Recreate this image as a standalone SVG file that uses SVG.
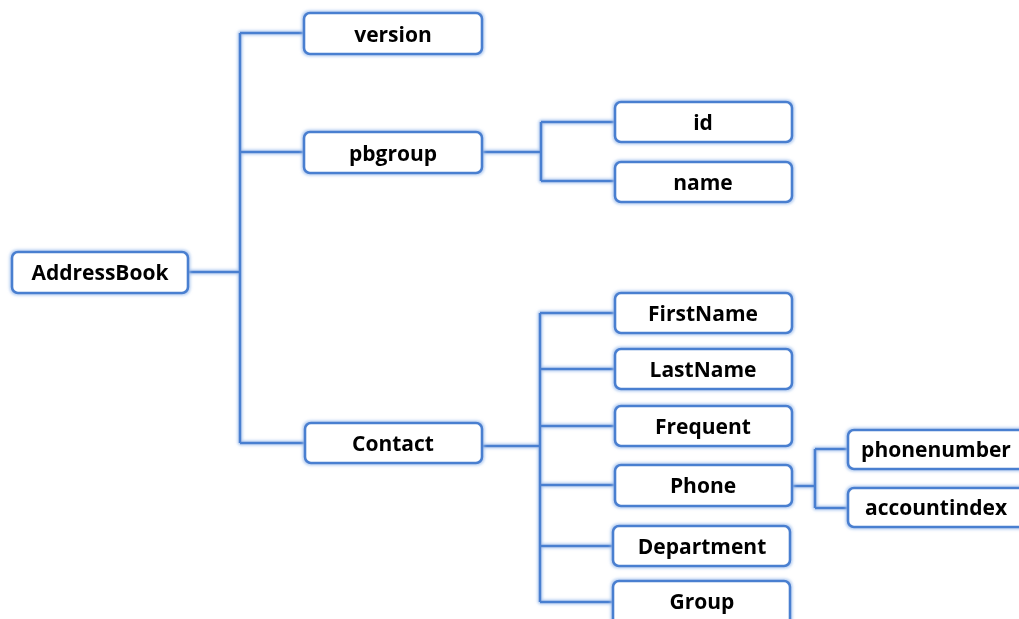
<svg xmlns="http://www.w3.org/2000/svg" width="1019" height="619" viewBox="0 0 1019 619">
<defs>
<filter id="glow" x="-5%" y="-5%" width="110%" height="110%">
<feMorphology in="SourceAlpha" operator="dilate" radius="1" result="d"/>
<feGaussianBlur in="d" stdDeviation="1.8" result="b"/>
<feFlood flood-color="#9bbcec" flood-opacity="0.85"/>
<feComposite in2="b" operator="in" result="g"/>
<feMerge><feMergeNode in="g"/><feMergeNode in="SourceGraphic"/></feMerge>
</filter>
<style>
.box{fill:#fff;stroke:#4a7fd0;stroke-width:2.6}
.lbl{font-family:"Open Sans","Liberation Sans",sans-serif;font-weight:bold;font-size:21px;fill:#000;text-anchor:middle}
.ln{fill:none;stroke:#4a7fd0;stroke-width:2.6}
</style>
</defs>
<rect width="1019" height="619" fill="#fff"/>
<g id="connectors" class="ln" filter="url(#glow)">
<path d="M188,272 H240 M240,33 V443 M240,33 H304 M240,152 H304 M240,443 H305"/>
<path d="M482,152 H541 M541,122 V181 M541,122 H615 M541,181 H615"/>
<path d="M482,446 H540 M540,313 V602 M540,313 H615 M540,369 H615 M540,426 H615 M540,485 H615 M540,546 H615 M540,602 H615"/>
<path d="M792,486 H815 M815,449 V508 M815,449 H848 M815,508 H848"/>
</g>
<g filter="url(#glow)">
<g id="AddressBook"><rect class="box" x="12" y="252" width="176" height="41" rx="6"/><text class="lbl" x="100" y="280">AddressBook</text></g>
<g id="version"><rect class="box" x="304" y="13" width="178" height="41" rx="6"/><text class="lbl" x="393" y="42">version</text></g>
<g id="pbgroup"><rect class="box" x="304" y="132" width="178" height="41" rx="6"/><text class="lbl" x="393" y="161">pbgroup</text></g>
<g id="Contact"><rect class="box" x="305" y="423" width="177" height="40" rx="6"/><text class="lbl" x="393" y="451">Contact</text></g>
<g id="id"><rect class="box" x="615" y="102" width="177" height="40" rx="6"/><text class="lbl" x="703" y="130">id</text></g>
<g id="name"><rect class="box" x="615" y="162" width="177" height="40" rx="6"/><text class="lbl" x="703" y="190">name</text></g>
<g id="FirstName"><rect class="box" x="615" y="293" width="177" height="40" rx="6"/><text class="lbl" x="703" y="321">FirstName</text></g>
<g id="LastName"><rect class="box" x="615" y="349" width="177" height="40" rx="6"/><text class="lbl" x="703" y="377">LastName</text></g>
<g id="Frequent"><rect class="box" x="615" y="406" width="177" height="40" rx="6"/><text class="lbl" x="703" y="434">Frequent</text></g>
<g id="Phone"><rect class="box" x="615" y="465" width="177" height="41" rx="6"/><text class="lbl" x="703" y="493">Phone</text></g>
<g id="Department"><rect class="box" x="613" y="526" width="177" height="40" rx="6"/><text class="lbl" x="702" y="554">Department</text></g>
<g id="Group"><rect class="box" x="613" y="581" width="177" height="44" rx="6"/><text class="lbl" x="702" y="609">Group</text></g>
<g id="phonenumber"><rect class="box" x="848" y="430" width="178" height="39" rx="6"/><text class="lbl" x="936" y="457">phonenumber</text></g>
<g id="accountindex"><rect class="box" x="848" y="488" width="178" height="39" rx="6"/><text class="lbl" x="936" y="515">accountindex</text></g>
</g>
</svg>
